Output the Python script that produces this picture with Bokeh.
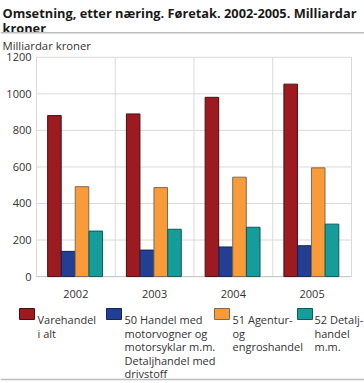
from bokeh.plotting import figure
from bokeh.layouts import column
from bokeh.models import FixedTicker, Range1d
from bokeh.core.properties import value
from bokeh.embed import file_html
from bokeh.resources import INLINE

# ---- data ----
years = ["2002", "2003", "2004", "2005"]
varehandel = [881, 890, 981, 1053]
motorvogner = [138, 145, 162, 169]
agentur = [492, 487, 544, 595]
detaljhandel = [249, 259, 270, 287]
series_names = [
    "Varehandel\ni alt",
    "50 Handel med\nmotorvogner og\nmotorsyklar m.m.\nDetaljhandel med\ndrivstoff",
    "51 Agentur-\nog\nengroshandel",
    "52 Detalj-\nhandel\nm.m.",
]
y_ticks = [0, 200, 400, 600, 800, 1000, 1200]
title_lines = ["Omsetning, etter næring. Føretak. 2002-2005. Milliardar", "kroner"]
y_unit = "Milliardar kroner"

# ---- style ----
FONT = "Open Sans"
fills = ["#9b1b20", "#233f94", "#f99b38", "#169c9a"]
lines = ["#4e0d10", "#15245a", "#7d6a58", "#0d5b5a"]
GRID = "#d9d9d9"
TXT = "#333333"
W = 364
PX = 78.75          # pixels per category
PY = 222 / 1200     # pixels per value unit


def blank_fig(h, y0, y1):
    f = figure(width=W, height=h, output_backend="svg", toolbar_location=None,
               x_range=Range1d(0, W), y_range=Range1d(y1, y0),
               x_axis_location=None, y_axis_location=None, min_border=0)
    f.grid.visible = False
    f.outline_line_color = None
    f.background_fill_color = "white"
    f.border_fill_color = "white"
    return f


def txt(f, x, y, t, size, bold=False, color=TXT):
    f.text(x=[x], y=[y], text=[t], text_font=value(FONT), text_font_size=value(size),
           text_font_style="bold" if bold else "normal", text_color=color,
           text_baseline="alphabetic", text_align="left")


# ---- header (page y 0..40) ----
head = blank_fig(40, 0, 40)
txt(head, 2, 12.9, title_lines[0], "12.8px", bold=True, color="#1a1a1a")
txt(head, 2, 27.3, title_lines[1], "12.8px", bold=True, color="#1a1a1a")
head.segment(x0=[0], x1=[W], y0=[32.3], y1=[32.3], line_color="#bdbdbd", line_width=1.5)

# ---- chart (page y 40..300), frame spans full width ----
pad_top = 17 / PY
pad_bot = 7 / PY
p = figure(width=W, height=260, output_backend="svg", toolbar_location=None,
           x_range=Range1d(-36 / PX, 4 + 13 / PX),
           y_range=Range1d(-pad_bot, 1200 + pad_top),
           y_axis_location=None,
           min_border_left=0, min_border_right=0, min_border_top=0, min_border_bottom=14)
p.background_fill_color = "white"
p.border_fill_color = "white"
p.outline_line_color = None
p.grid.visible = False

ncat = len(years)
# grid lines (at tick values) and category separators
p.segment(x0=[0] * len(y_ticks), x1=[ncat] * len(y_ticks), y0=y_ticks, y1=y_ticks,
          line_color=GRID, line_width=1)
p.segment(x0=list(range(ncat + 1)), x1=list(range(ncat + 1)),
          y0=[0] * (ncat + 1), y1=[y_ticks[-1]] * (ncat + 1), line_color=GRID, line_width=1)
p.segment(x0=[0], x1=[ncat], y0=[0], y1=[0], line_color="#c4c4c4", line_width=1)

series = [varehandel, motorvogner, agentur, detaljhandel]
bw = 0.172
for k, vals in enumerate(series):
    off = (k - 1.5) * 0.175 - 0.01
    xs = [i + 0.5 + off for i in range(ncat)]
    p.vbar(x=xs, top=vals, bottom=0, width=bw, fill_color=fills[k],
           line_color=lines[k], line_width=1)

# y tick labels
p.text(x=[-5 / PX] * len(y_ticks), y=y_ticks, text=[str(v) for v in y_ticks],
       text_font=value(FONT), text_font_size=value("11px"), text_color=TXT,
       text_align="right", text_baseline="middle")

# unit label above the value axis
p.text(x=[-34 / PX], y=[1200 + 11.5 / PY], text=[y_unit],
       text_font=value(FONT), text_font_size=value("11.3px"), text_color=TXT,
       text_align="left", text_baseline="alphabetic")

# x axis (category labels)
p.xaxis.ticker = FixedTicker(ticks=[i + 0.5 for i in range(ncat)])
p.xaxis.major_label_overrides = {i + 0.5: y for i, y in enumerate(years)}
p.xaxis.major_tick_line_color = None
p.xaxis.minor_tick_line_color = None
p.xaxis.axis_line_color = None
p.xaxis.major_label_text_font = FONT
p.xaxis.major_label_text_font_size = "11px"
p.xaxis.major_label_text_color = TXT
p.xaxis.major_label_standoff = 0

# ---- legend (page y 300..383) ----
leg = blank_fig(83, 300, 383)
sq_x = [19, 106, 214, 297]
tx_x = [37, 124, 232, 314]
for k, name in enumerate(series_names):
    leg.quad(left=[sq_x[k]], right=[sq_x[k] + 15], top=[308], bottom=[319],
             fill_color=fills[k], line_color=lines[k], line_width=1)
    for j, ln in enumerate(name.split("\n")):
        txt(leg, tx_x[k], 319.3 + j * 13.5, ln, "11px")
leg.segment(x0=[0], x1=[W], y0=[379], y1=[379], line_color="#bdbdbd", line_width=1.5)

layout = column(head, p, leg, spacing=0)
open("out.html", "w").write(file_html(layout, INLINE))
